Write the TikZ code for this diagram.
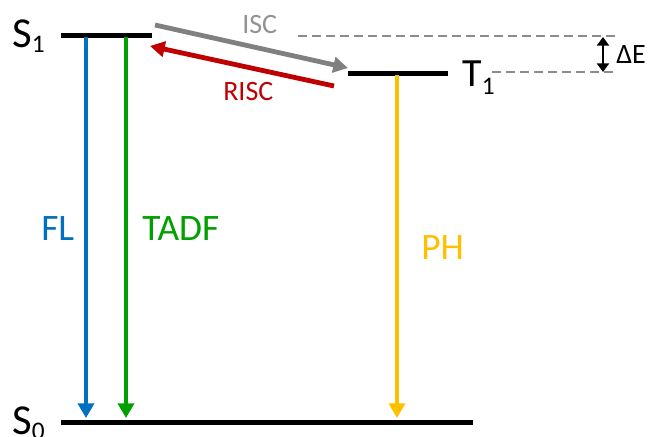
\documentclass[tikz,border=0pt]{standalone}
\usepackage{fontspec}
\setmainfont{Carlito}
\usetikzlibrary{arrows.meta}
\definecolor{flblue}{HTML}{0070C0}
\definecolor{tadfgreen}{HTML}{00A000}
\definecolor{phyellow}{HTML}{FFC000}
\definecolor{risced}{HTML}{C00000}
\definecolor{iscgray}{HTML}{808080}
\definecolor{dashgray}{HTML}{8C8C8C}
\tikzset{
  level/.style={line width=3.75pt, black},
  decay/.style={line width=3pt, -{Triangle[length=11pt,width=12pt]}},
  cross/.style={line width=3.6pt, -{Triangle[length=11pt,width=11.5pt]}},
  guide/.style={line width=1.4pt, dashgray, dash pattern=on 6.5pt off 4pt},
  gap/.style={line width=2.2pt, {Triangle[length=6.5pt,width=9pt]}-{Triangle[length=6.5pt,width=9pt]}},
  lbl/.style={inner sep=0pt, anchor=base west},
}
\newcommand{\statelbl}[3]{#1\raisebox{-#3}{\fontsize{19}{19}\selectfont #2}}
\begin{document}
\begin{tikzpicture}[x=0.75pt, y=-0.75pt]
\useasboundingbox (0,0) rectangle (649,436);

% energy levels
\coordinate (s1L) at (61,35);  \coordinate (s1R) at (152,35);
\coordinate (t1L) at (348,73); \coordinate (t1R) at (448,73);
\coordinate (s0L) at (61,422); \coordinate (s0R) at (473,422);
\draw[level] (s1L) -- (s1R);
\draw[level] (t1L) -- (t1R);
\draw[level] (s0L) -- (s0R);

% level labels
\node[lbl, font=\fontsize{32}{32}\selectfont] (s1lbl) at (12,47) {\statelbl{S}{1}{4pt}};
\node[lbl, font=\fontsize{30}{30}\selectfont] (t1lbl) at (462,86) {\statelbl{T}{1}{6pt}};
\node[lbl, font=\fontsize{32}{32}\selectfont] (s0lbl) at (12,434) {\statelbl{S}{0}{4pt}};

% radiative decays
\coordinate (flTop) at (86,37);   \coordinate (flBot) at (86,418);
\coordinate (tdTop) at (126,37);  \coordinate (tdBot) at (126,418);
\coordinate (phTop) at (397,75);  \coordinate (phBot) at (397,418);
\draw[decay, flblue] (flTop) -- (flBot);
\draw[decay, tadfgreen] (tdTop) -- (tdBot);
\draw[decay, phyellow] (phTop) -- (phBot);
\node[lbl, flblue, font=\fontsize{28}{28}\selectfont] (fl) at (41,240) {FL};
\node[lbl, tadfgreen, font=\fontsize{28}{28}\selectfont] (tadf) at (142,240) {TADF};
\node[lbl, phyellow, font=\fontsize{28}{28}\selectfont] (ph) at (421,259) {PH};

% intersystem crossings
\coordinate (iscA) at (155,25);  \coordinate (iscB) at (348,68);
\coordinate (riscA) at (334,86); \coordinate (riscB) at (150,46);
\draw[cross, iscgray] (iscA) -- (iscB);
\draw[cross, risced] (riscA) -- (riscB);
\node[lbl, iscgray!85, font=\fontsize{21}{21}\selectfont] (isc) at (242,33) {ISC};
\node[lbl, risced, font=\fontsize{21}{21}\selectfont] (risc) at (223,100) {RISC};

% singlet-triplet gap
\coordinate (g1A) at (298,36); \coordinate (g1B) at (616,36);
\coordinate (g2A) at (492,72); \coordinate (g2B) at (616,72);
\draw[guide] (g1A) -- (g1B);
\draw[guide] (g2A) -- (g2B);
\coordinate (deTop) at (603,37); \coordinate (deBot) at (603,72);
\draw[gap] (deTop) -- (deBot);
\node[lbl, font=\fontsize{21}{21}\selectfont] (de) at (616,63) {ΔE};
\end{tikzpicture}
\end{document}
